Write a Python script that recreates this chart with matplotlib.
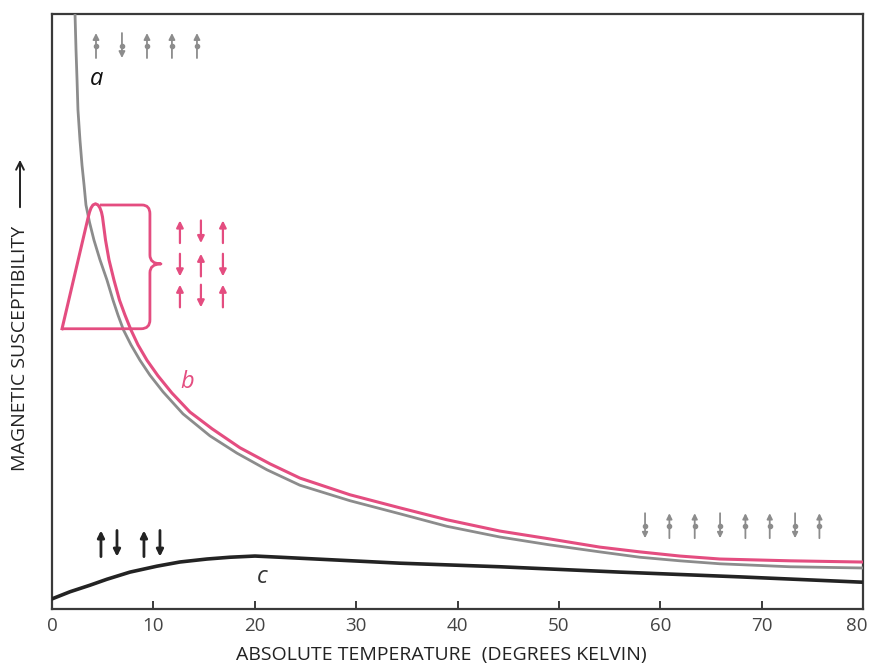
import matplotlib
matplotlib.use("Agg")
import matplotlib.pyplot as plt
from matplotlib.path import Path
from matplotlib.patches import PathPatch, FancyArrowPatch
from matplotlib.transforms import ScaledTranslation

plt.rcParams['font.family'] = ['Open Sans', 'DejaVu Sans']

# --- curve data: temperature (K) and susceptibility (arbitrary units, 0-100 frame) ---
# a: paramagnet (Curie-like rise at low temperature)
temp_a = [2.23, 2.27, 2.37, 2.47, 2.56, 2.76, 2.96, 3.16, 3.35, 3.70, 4.14, 4.73, 5.42,
          6.02, 6.51, 7.05, 7.79, 8.68, 9.66, 10.95, 12.92, 15.58, 18.24, 21.20, 24.46,
          29.39, 34.32, 38.95, 44.18, 49.01, 54.04, 57.99, 61.93, 65.88, 72.78, 79.68, 80.0]
chi_a = [104.0, 100.0, 93.9, 88.9, 83.9, 78.8, 74.6, 71.3, 67.9, 65.0, 62.0, 58.7, 55.3,
         51.9, 49.4, 46.9, 44.4, 41.8, 39.3, 36.5, 32.8, 29.1, 26.2, 23.4, 20.8,
         18.2, 16.0, 13.9, 12.1, 10.8, 9.6, 8.7, 8.1, 7.6, 7.1, 6.9, 6.9]

# b: ferromagnet (sharp peak at the ordering temperature)
temp_b = [0.99, 3.55, 3.70, 3.85, 4.04, 4.29, 4.54, 4.73, 4.88, 4.98, 5.28, 5.62, 6.11,
          6.66, 7.20, 7.79, 8.48, 9.37, 10.45, 11.83, 13.61, 15.78, 18.54, 21.50, 24.46,
          29.39, 34.32, 38.95, 44.18, 49.01, 54.04, 57.99, 61.93, 65.88, 72.78, 79.68, 80.0]
chi_b = [47.1, 65.7, 66.7, 67.4, 67.9, 68.1, 67.9, 67.4, 66.7, 65.9, 62.0, 58.7, 55.3,
         51.9, 49.4, 46.9, 44.4, 41.8, 39.2, 36.3, 33.1, 30.3, 27.1, 24.4, 22.0,
         19.2, 17.0, 15.0, 13.1, 11.8, 10.4, 9.6, 8.9, 8.4, 8.1, 7.9, 7.9]

# c: antiferromagnet (broad maximum near 20 K)
temp_c = [0.0, 1.78, 3.75, 5.42, 7.69, 10.36, 12.62, 15.29, 17.55, 20.02, 22.49, 28.40,
          34.32, 44.18, 56.02, 67.85, 80.0]
chi_c = [1.7, 2.9, 4.0, 5.0, 6.2, 7.2, 7.9, 8.4, 8.7, 8.9, 8.7, 8.2,
         7.7, 7.1, 6.2, 5.4, 4.5]

x_ticks = [0, 10, 20, 30, 40, 50, 60, 70, 80]

# spin arrows: x positions and direction (+1 up, -1 down)
spins_a_x = [4.34, 6.90, 9.37, 11.83, 14.30]
spins_a_dir = [1, -1, 1, 1, 1]
spins_b_x = [12.62, 14.69, 16.86]
spins_b_rows = [63.4, 57.8, 52.6]
spins_b_dir = [[1, -1, 1], [-1, 1, -1], [1, -1, 1]]
spins_c_x = [4.83, 6.41, 9.07, 10.65]
spins_c_dir = [1, -1, 1, -1]
spins_para_x = [58.5, 60.9, 63.4, 65.9, 68.4, 70.8, 73.3, 75.7]
spins_para_dir = [-1, 1, 1, -1, 1, 1, -1, 1]

GRAY = '#8c8c8c'
PINK = '#e44d80'
DARK = '#232323'

fig = plt.figure(figsize=(8.7, 6.65), dpi=100)
ax = fig.add_axes([52 / 870, 56 / 665, 811 / 870, 595 / 665])
ax.set_xlim(0, 80)
ax.set_ylim(0, 100)

ax.plot(temp_a, chi_a, color=GRAY, lw=2.0, solid_joinstyle='round', zorder=3)
ax.plot(temp_b, chi_b, color=PINK, lw=2.2, solid_joinstyle='round', zorder=4)
ax.plot(temp_c, chi_c, color=DARK, lw=2.6, solid_joinstyle='round', zorder=3)

# brace grouping the ordered low-temperature state
verts = [(4.73, 67.9), (8.88, 67.9),
         (9.66, 67.9), (9.66, 66.4),
         (9.66, 59.5),
         (9.66, 58.0), (10.75, 58.0),
         (9.66, 58.0), (9.66, 56.5),
         (9.66, 48.6),
         (9.66, 47.1), (8.78, 47.1),
         (0.99, 47.1)]
codes = [Path.MOVETO, Path.LINETO,
         Path.CURVE3, Path.CURVE3,
         Path.LINETO,
         Path.CURVE3, Path.CURVE3,
         Path.CURVE3, Path.CURVE3,
         Path.LINETO,
         Path.CURVE3, Path.CURVE3,
         Path.LINETO]
ax.add_patch(PathPatch(Path(verts, codes), facecolor='none', edgecolor=PINK,
                       lw=2.0, zorder=4, joinstyle='round'))


def spin(x, yc, d, half, color, lw=1.3, head=9, dot=True):
    y0, y1 = yc - d * half, yc + d * half
    ax.annotate('', xy=(x, y1), xytext=(x, y0),
                arrowprops=dict(arrowstyle='-|>', color=color, lw=lw,
                                mutation_scale=head, shrinkA=0, shrinkB=0),
                zorder=5)
    if dot:
        ax.plot([x], [yc], marker='o', ms=3, color=color, zorder=5)


for x, d in zip(spins_a_x, spins_a_dir):
    spin(x, 94.7, d, 2.1, GRAY)
for row, yc in zip(spins_b_dir, spins_b_rows):
    for x, d in zip(spins_b_x, row):
        spin(x, yc, d, 1.9, PINK, lw=1.6, head=10, dot=False)
for x, d in zip(spins_c_x, spins_c_dir):
    spin(x, 11.0, d, 2.2, DARK, lw=2.0, head=10, dot=False)
for x, d in zip(spins_para_x, spins_para_dir):
    spin(x, 14.0, d, 2.1, GRAY, lw=1.3, head=8)

# curve labels
ax.text(4.4, 89.0, 'a', fontsize=17, style='italic', color='#111111', ha='center', va='center')
ax.text(13.3, 38.2, 'b', fontsize=17, style='italic', color=PINK, ha='center', va='center')
ax.text(20.7, 5.3, 'c', fontsize=17, style='italic', color='#333333', ha='center', va='center')

# axes styling
for s in ax.spines.values():
    s.set_color('#3a3a3a')
    s.set_linewidth(1.6)
ax.set_xticks(x_ticks)
ax.set_xticklabels([str(t) for t in x_ticks])
ax.tick_params(axis='x', direction='in', length=6, width=1.4, color='#3a3a3a',
               labelsize=13.5, labelcolor='#444444', pad=6)
ax.set_yticks([])
last = ax.get_xticklabels()[-1]
last.set_transform(last.get_transform() + ScaledTranslation(-6 / 100, 0, fig.dpi_scale_trans))

fig.text(441 / 870, 1 - 655 / 665, 'ABSOLUTE TEMPERATURE  (DEGREES KELVIN)',
         ha='center', va='center', fontsize=14, color='#222222')
fig.text(20 / 870, 1 - 348 / 665, 'MAGNETIC SUSCEPTIBILITY',
         rotation=90, ha='center', va='center', fontsize=14, color='#222222')
fig.add_artist(FancyArrowPatch(
    (20 / 870, 1 - 210 / 665), (20 / 870, 1 - 157 / 665),
    transform=fig.transFigure, arrowstyle='->', mutation_scale=14,
    lw=1.4, color='#222222'))

fig.savefig('out.png', dpi=100, facecolor='white')
